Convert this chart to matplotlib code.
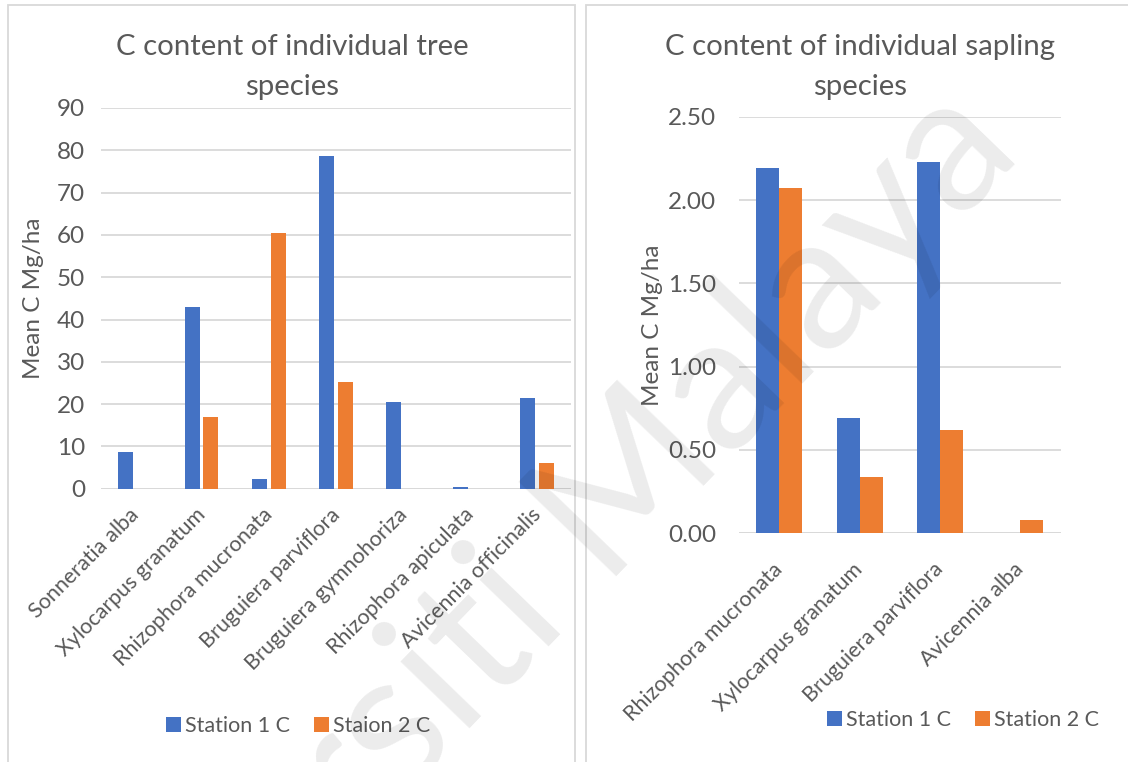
import numpy as np
import matplotlib.pyplot as plt
from matplotlib.patches import Rectangle
from matplotlib.transforms import ScaledTranslation

plt.rcParams['font.family'] = ['Lato', 'DejaVu Sans']

# tree species (left chart)
tree_species = ["Sonneratia alba", "Xylocarpus granatum", "Rhizophora mucronata",
                "Bruguiera parviflora", "Bruguiera gymnohoriza", "Rhizophora apiculata",
                "Avicennia officinalis"]
tree_st1 = [8.7, 42.9, 2.2, 78.7, 20.6, 0.3, 21.4]
tree_st2 = [0, 17.0, 60.4, 25.3, 0, 0, 6.0]
tree_legend = ["Station 1 C", "Staion 2 C"]
tree_ticks = [0, 10, 20, 30, 40, 50, 60, 70, 80, 90]

# sapling species (right chart)
sap_species = ["Rhizophora mucronata", "Xylocarpus granatum", "Bruguiera parviflora",
               "Avicennia alba"]
sap_st1 = [2.19, 0.69, 2.23, 0]
sap_st2 = [2.07, 0.34, 0.62, 0.08]
sap_legend = ["Station 1 C", "Station 2 C"]
sap_ticks = [0.0, 0.5, 1.0, 1.5, 2.0, 2.5]

BLUE = "#4472C4"
ORANGE = "#ED7D31"
TXT = "#595959"
GRID = "#d9d9d9"
FS = 15.5      # category labels, legend
FS_Y = 17.5    # value ticks, axis title
FS_T = 21.2    # chart titles

fig = plt.figure(figsize=(11.28, 7.62), dpi=100)
W, H = 1128, 762


def px_axes(x0, y0, x1, y1):
    # axes from pixel box (top-left origin)
    return fig.add_axes([x0 / W, 1 - y1 / H, (x1 - x0) / W, (y1 - y0) / H])


def style(ax, ticks, fmt, ypad):
    ax.set_yticks(ticks)
    ax.set_yticklabels([fmt.format(t) for t in ticks])
    ax.set_ylim(ticks[0], ticks[-1])
    for s in ax.spines.values():
        s.set_visible(False)
    ax.grid(axis='y', color=GRID, linewidth=1.3)
    ax.axhline(0, color=GRID, linewidth=2.0, zorder=1)
    ax.set_axisbelow(True)
    ax.tick_params(length=0, labelcolor=TXT)
    ax.tick_params(axis='y', labelsize=FS_Y, pad=ypad)
    ax.tick_params(axis='x', labelsize=FS, pad=10)


def rotate_labels(ax, names, dx, dy):
    ax.set_xticks(np.arange(len(names)))
    ax.set_xticklabels(names, rotation=45, ha='right', rotation_mode='anchor')
    shift = ScaledTranslation(dx / 100, -dy / 100, fig.dpi_scale_trans)
    for lbl in ax.get_xticklabels():
        lbl.set_transform(lbl.get_transform() + shift)


# panel frames
fig.add_artist(Rectangle((8 / W, -0.05), 567 / W, 1.05 - 5 / H, transform=fig.transFigure,
                         fill=False, edgecolor=GRID, linewidth=1.3))
fig.add_artist(Rectangle((586 / W, -0.05), 560 / W, 1.05 - 5 / H, transform=fig.transFigure,
                         fill=False, edgecolor=GRID, linewidth=1.3))

# left chart
ax1 = px_axes(101, 108, 570.7, 488.7)
x = np.arange(len(tree_species))
w = 0.223
ax1.bar(x - 0.139, tree_st1, w, color=BLUE, zorder=2, label=tree_legend[0])
ax1.bar(x + 0.139, tree_st2, w, color=ORANGE, zorder=2, label=tree_legend[1])
ax1.set_xlim(-0.5, len(tree_species) - 0.5)
style(ax1, tree_ticks, "{:.0f}", 11.5)
rotate_labels(ax1, tree_species, -6, 2)
ax1.set_ylabel("Mean C Mg/ha", fontsize=FS_Y, color=TXT)
ax1.yaxis.set_label_coords(-0.121, 0.5)
fig.text(292 / W, 1 - 47 / H, "C content of individual tree", ha='center', va='center',
         fontsize=FS_T, color=TXT)
fig.text(292 / W, 1 - 87 / H, "species", ha='center', va='center', fontsize=FS_T, color=TXT)
h1, l1 = ax1.get_legend_handles_labels()
fig.legend(h1, l1, loc='center', bbox_to_anchor=(298 / W, 1 - 726 / H), ncol=2, frameon=False,
           fontsize=FS, labelcolor=TXT, handlelength=0.7, handleheight=0.7,
           handletextpad=0.2, columnspacing=1.1)

# right chart
ax2 = px_axes(739, 116.7, 1060.7, 533.3)
x2 = np.arange(len(sap_species))
w2 = 0.286
ax2.bar(x2 - w2 / 2, sap_st1, w2, color=BLUE, zorder=2, label=sap_legend[0])
ax2.bar(x2 + w2 / 2, sap_st2, w2, color=ORANGE, zorder=2, label=sap_legend[1])
ax2.set_xlim(-0.5, len(sap_species) - 0.5)
style(ax2, sap_ticks, "{:.2f}", 16.5)
rotate_labels(ax2, sap_species, -7, 12)
ax2.set_ylabel("Mean C Mg/ha", fontsize=FS_Y, color=TXT)
ax2.yaxis.set_label_coords(-0.236, 0.5)
fig.text(860 / W, 1 - 47 / H, "C content of individual sapling", ha='center', va='center',
         fontsize=FS_T, color=TXT)
fig.text(860 / W, 1 - 87 / H, "species", ha='center', va='center', fontsize=FS_T, color=TXT)
h2, l2 = ax2.get_legend_handles_labels()
fig.legend(h2, l2, loc='center', bbox_to_anchor=(963 / W, 1 - 720 / H), ncol=2, frameon=False,
           fontsize=FS, labelcolor=TXT, handlelength=0.7, handleheight=0.7,
           handletextpad=0.2, columnspacing=1.1)

# watermark
fig.text(480 / W, 1 - 640 / H, "Universiti Malaya", ha='center', va='center', rotation=46,
         fontsize=137, color='black', alpha=0.08, zorder=10)

fig.savefig("out.png", dpi=100)
